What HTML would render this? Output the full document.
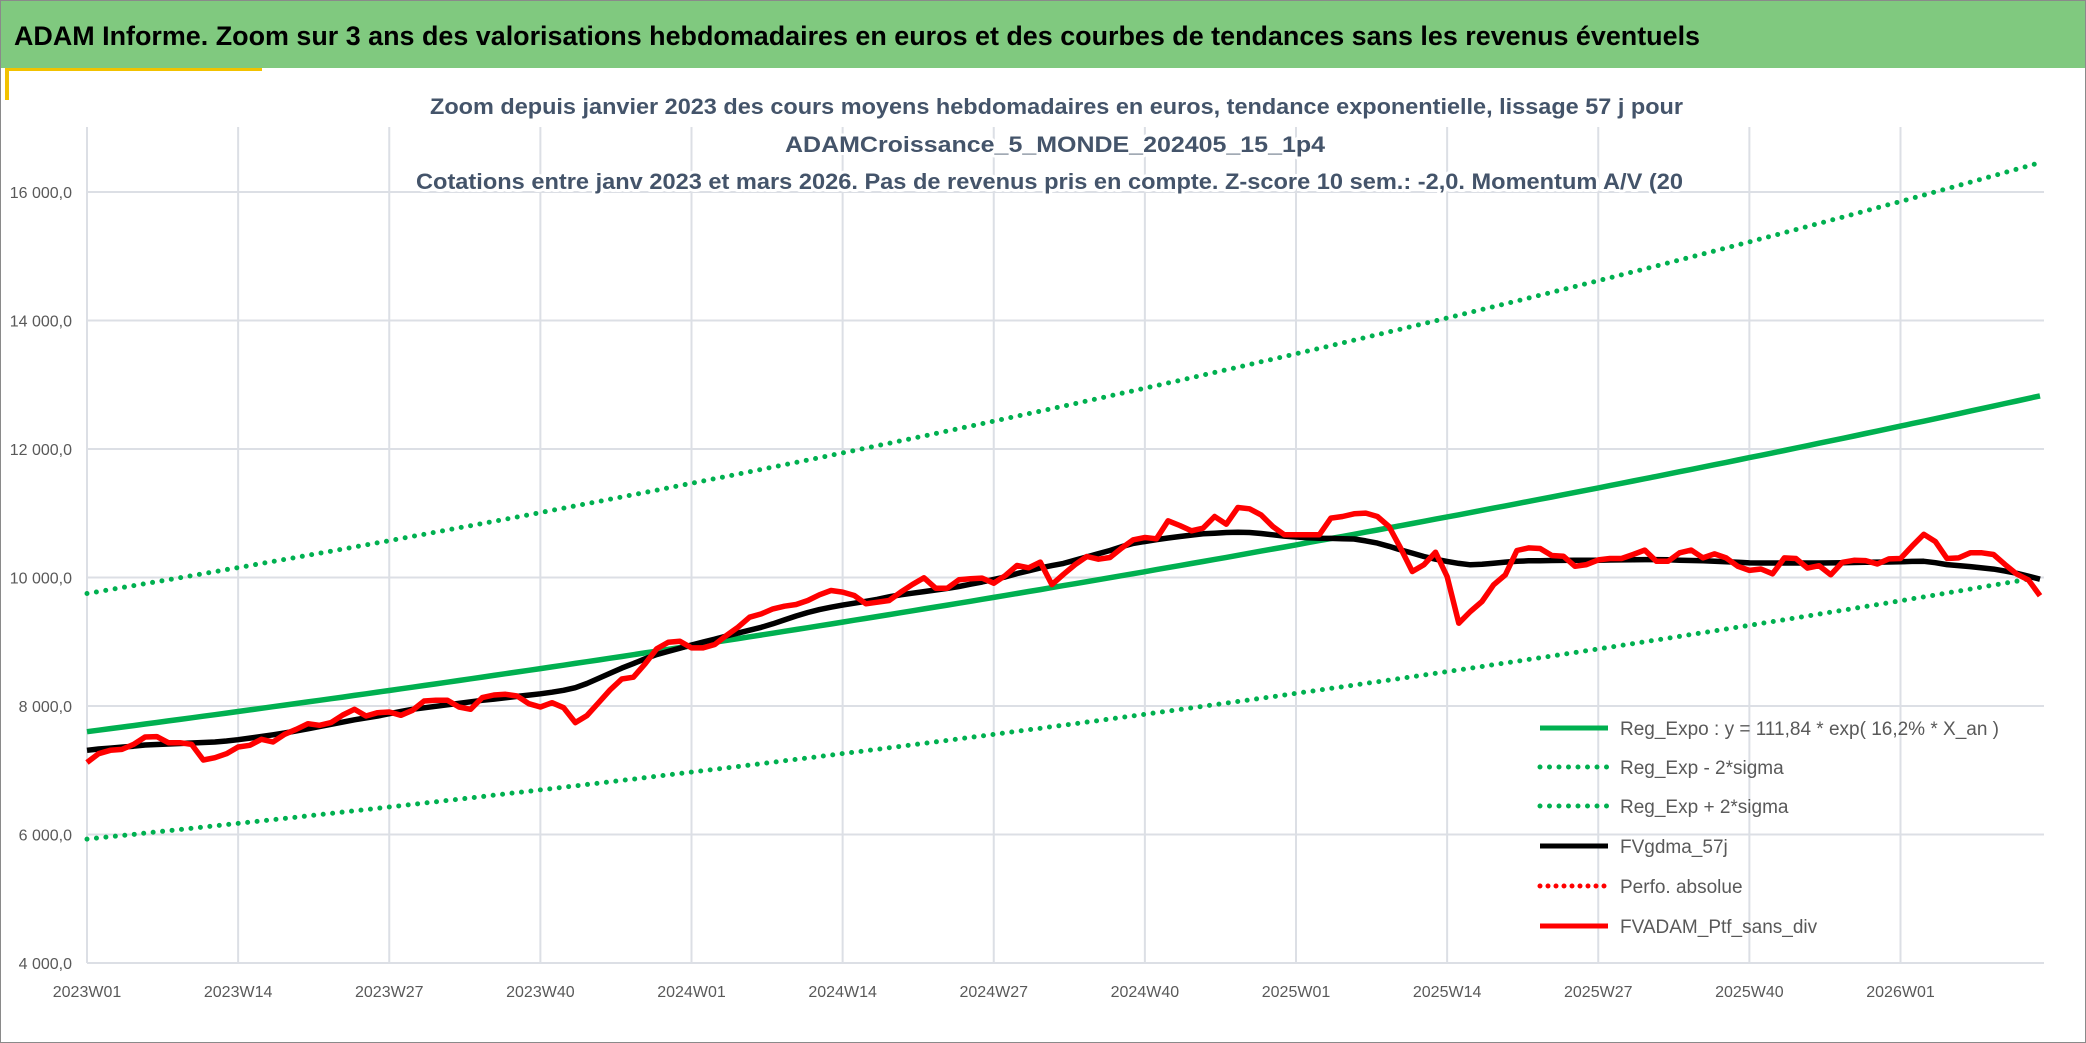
<!DOCTYPE html>
<html><head><meta charset="utf-8"><style>
html,body{margin:0;padding:0;background:#fff;}
svg{display:block;font-family:"Liberation Sans",sans-serif;}
</style></head><body>
<svg id="chart" width="2086" height="1043" viewBox="0 0 2086 1043" xmlns="http://www.w3.org/2000/svg">
<rect x="0.5" y="0.5" width="2085" height="1042" fill="#fff" stroke="#8a8a8a"/>
<rect x="1" y="1" width="2084" height="67" fill="#80c97f"/>
<rect x="5" y="68" width="257" height="3" fill="#f2c200"/>
<rect x="5" y="68" width="4" height="32" fill="#f2c200"/>
<text x="14" y="45" font-size="27" font-weight="bold" fill="#000" textLength="1686" lengthAdjust="spacingAndGlyphs">ADAM Informe. Zoom sur 3 ans des valorisations hebdomadaires en euros et des courbes de tendances sans les revenus éventuels</text>
<g id="grid"></g>
<g fill="#44546a" font-size="22" font-weight="bold" stroke="#fff" stroke-width="6" paint-order="stroke" stroke-linejoin="round">
<text x="430" y="114" textLength="1253" lengthAdjust="spacingAndGlyphs">Zoom depuis janvier 2023 des cours moyens hebdomadaires en euros, tendance exponentielle, lissage 57 j pour</text>
<text x="785" y="152" textLength="540" lengthAdjust="spacingAndGlyphs">ADAMCroissance_5_MONDE_202405_15_1p4</text>
<text x="416" y="189" textLength="1267" lengthAdjust="spacingAndGlyphs">Cotations entre janv 2023 et mars 2026. Pas de revenus pris en compte. Z-score 10 sem.: -2,0. Momentum A/V (20</text>
</g>
<g id="yaxis"></g>
<g id="xaxis"></g>
<g id="series"></g>
<g id="legend"></g>
</svg>
<script>
const yTicks = [4000, 6000, 8000, 10000, 12000, 14000, 16000];
const yTickLabels = ["4 000,0","6 000,0","8 000,0","10 000,0","12 000,0","14 000,0","16 000,0"];
const xTickLabels = ["2023W01","2023W14","2023W27","2023W40","2024W01","2024W14","2024W27","2024W40","2025W01","2025W14","2025W27","2025W40","2026W01"];
const xTickWeeks = [0,13,26,39,52,65,78,91,104,117,130,143,156];
const regStart = [7600];
const regAnnualRate = [0.162];
const sigmaBandFactors = [0.78, 1.283];
const portfolio = [7120,7258,7310,7325,7403,7517,7523,7429,7429,7403,7159,7195,7258,7362,7388,7481,7440,7559,7637,7725,7699,7741,7860,7948,7844,7896,7907,7855,7933,8078,8088,8088,7984,7948,8130,8171,8182,8156,8036,7984,8052,7974,7741,7850,8050,8250,8420,8448,8656,8889,8993,9009,8905,8905,8957,9097,9227,9382,9434,9512,9554,9580,9642,9730,9798,9772,9720,9590,9616,9642,9772,9891,9995,9834,9834,9964,9979,9990,9912,10031,10187,10151,10240,9890,10050,10200,10327,10285,10311,10457,10587,10623,10602,10882,10810,10727,10768,10950,10830,11090,11069,10975,10794,10664,10664,10664,10664,10924,10950,10991,11002,10950,10794,10457,10093,10197,10394,10015,9289,9471,9626,9886,10041,10420,10460,10452,10342,10331,10174,10200,10274,10295,10295,10358,10426,10252,10252,10384,10426,10305,10368,10305,10174,10110,10132,10058,10305,10295,10147,10184,10042,10237,10268,10263,10210,10289,10295,10489,10673,10558,10295,10305,10384,10384,10358,10200,10053,9963,9716];
const smoothed57 = [7310,7330,7345,7360,7375,7393,7400,7408,7416,7424,7432,7440,7455,7475,7500,7525,7552,7580,7612,7645,7680,7715,7750,7785,7815,7845,7880,7915,7948,7972,7995,8018,8040,8065,8088,8108,8128,8150,8170,8190,8215,8245,8285,8350,8430,8510,8590,8660,8735,8800,8850,8900,8950,8995,9040,9090,9135,9180,9225,9280,9340,9400,9455,9500,9538,9570,9600,9630,9660,9700,9730,9755,9780,9805,9830,9860,9895,9930,9970,10010,10060,10105,10150,10185,10220,10270,10320,10370,10420,10480,10530,10560,10590,10615,10638,10660,10680,10690,10700,10705,10700,10685,10665,10645,10630,10620,10612,10608,10604,10600,10570,10535,10485,10430,10380,10327,10285,10250,10220,10197,10205,10223,10240,10252,10260,10262,10264,10266,10267,10268,10270,10272,10274,10276,10278,10279,10275,10270,10265,10260,10254,10245,10236,10228,10226,10226,10226,10226,10226,10226,10228,10230,10233,10236,10239,10242,10245,10250,10252,10230,10200,10185,10170,10150,10130,10100,10065,10020,9974];
const legendLabels = ["Reg_Expo : y = 111,84 * exp( 16,2% *  X_an )","Reg_Exp - 2*sigma","Reg_Exp + 2*sigma","FVgdma_57j","Perfo. absolue","FVADAM_Ptf_sans_div"];

const NS = "http://www.w3.org/2000/svg";
const X0 = 87, WEEK = 11.625, PLOT_TOP = 127, PLOT_RIGHT = 2044;
function xS(i){ return X0 + i*WEEK; }
function yS(v){ return 963 - (v-4000)*(771/12000); }
function mk(tag, attrs, parent){ const e=document.createElementNS(NS,tag); for(const k in attrs) e.setAttribute(k, attrs[k]); parent.appendChild(e); return e; }

const grid=document.getElementById('grid'), ya=document.getElementById('yaxis'), xa=document.getElementById('xaxis'), se=document.getElementById('series'), lg=document.getElementById('legend');
yTicks.forEach((t,k)=>{
  const l=mk('line',{x1:X0,x2:PLOT_RIGHT,y1:yS(t),y2:yS(t),stroke:'#dcdfe5','stroke-width':2},grid);
  
  
  const tx=mk('text',{x:72,y:yS(t)+6,'text-anchor':'end','font-size':16,fill:'#595959'},ya);
  tx.textContent=yTickLabels[k];
  
  
});
xTickWeeks.forEach((w,k)=>{
  const l=mk('line',{x1:xS(w),x2:xS(w),y1:PLOT_TOP,y2:963,stroke:'#dcdfe5','stroke-width':2},grid);
  
  
  const tx=mk('text',{x:xS(w),y:997,'text-anchor':'middle','font-size':16,fill:'#595959'},xa);
  tx.textContent=xTickLabels[k];
  
  
});
const N = portfolio.length;
function regVal(i){ return regStart[0]*Math.exp(regAnnualRate[0]*i/52); }
function pathFrom(fn){ let d=''; for(let i=0;i<N;i++){ d+=(i?'L':'M')+xS(i).toFixed(1)+','+yS(fn(i)).toFixed(1); } return d; }
const lower=mk('path',{d:pathFrom(i=>regVal(i)*sigmaBandFactors[0]),fill:'none',stroke:'#00b050','stroke-width':5,'stroke-linecap':'round','stroke-dasharray':'0 9.5'},se);


const upper=mk('path',{d:pathFrom(i=>regVal(i)*sigmaBandFactors[1]),fill:'none',stroke:'#00b050','stroke-width':5,'stroke-linecap':'round','stroke-dasharray':'0 9.5'},se);


const reg=mk('path',{d:pathFrom(regVal),fill:'none',stroke:'#00b050','stroke-width':5.5},se);


const sm=mk('path',{d:pathFrom(i=>smoothed57[i]),fill:'none',stroke:'#000','stroke-width':5.5,'stroke-linejoin':'round'},se);


const pf=mk('path',{d:pathFrom(i=>portfolio[i]),fill:'none',stroke:'#ff0000','stroke-width':5.5,'stroke-linejoin':'round'},se);



const legStyles=[
 {stroke:'#00b050',dash:null},{stroke:'#00b050',dash:'0 9.5'},{stroke:'#00b050',dash:'0 9.5'},
 {stroke:'#000',dash:null},{stroke:'#ff0000',dash:'0 8'},{stroke:'#ff0000',dash:null}];
const legY=[728,767,806,846,886,926];
legendLabels.forEach((lab,k)=>{
  const g=mk('g',{},lg);
  
  
  const a={x1:1540,x2:1608,y1:legY[k],y2:legY[k],stroke:legStyles[k].stroke,'stroke-width':5};
  if(legStyles[k].dash){a['stroke-dasharray']=legStyles[k].dash;a['stroke-linecap']='round';}
  const ln=mk('line',a,g);
  
  
  const tx=mk('text',{x:1620,y:legY[k]+7,'font-size':19,fill:'#595959'},g);
  tx.textContent=lab;
  
  
});
</script>
</body></html>
